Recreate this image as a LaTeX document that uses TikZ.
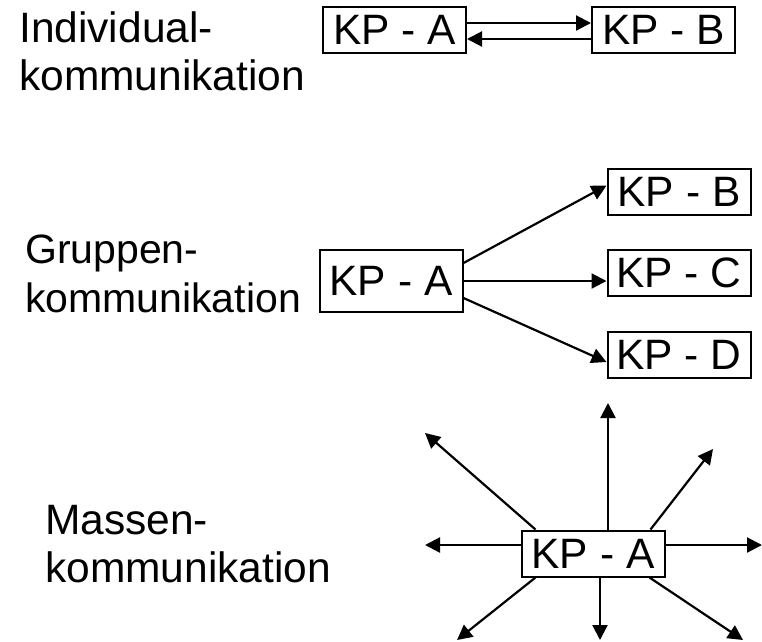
\documentclass[tikz,border=0pt]{standalone}
\usepackage{fontspec}
\setmainfont{Liberation Sans}
\usetikzlibrary{arrows.meta}
\begin{document}
\begin{tikzpicture}[x=1pt,y=-1pt,
  font=\fontsize{42.5}{48}\selectfont,
  kp/.style={draw,line width=2pt,inner sep=0pt,minimum width=143pt,minimum height=46pt},
  caption/.style={align=left,anchor=base west,inner sep=0pt},
  link/.style={line width=2.2pt,-{Triangle[length=15pt,width=15pt]}}]
\useasboundingbox (0,0) rectangle (762,641);

% Individualkommunikation (anchor sits on the last baseline)
\node[caption] (l1) at (19,90) {Individual-\\kommunikation};
\node[kp] (ia) at (394.5,30) {KP - A};
\node[kp] (ib) at (663.5,30) {KP - B};
\draw[link] ([yshift=7pt]ia.east) -- ([yshift=7pt]ib.west);
\draw[link] ([yshift=-9pt]ib.west) -- ([yshift=-9pt]ia.east);

% Gruppenkommunikation
\node[caption,font=\fontsize{41}{49}\selectfont] (l2) at (25,312) {Gruppen-\\kommunikation};
\node[kp,minimum height=62pt] (ga) at (391,281) {KP - A};
\node[kp] (gb) at (679,191.5) {KP - B};
\node[kp] (gc) at (679,272.5) {KP - C};
\node[kp] (gd) at (679,354.5) {KP - D};
\draw[link] ([yshift=18pt]ga.east) -- ([yshift=6pt]gb.west);
\draw[link] (ga.east) -- (ga.east -| gc.west);
\draw[link] ([yshift=-17pt]ga.east) -- ([yshift=-7.5pt]gd.west);

% Massenkommunikation
\node[caption] (l3) at (45,582) {Massen-\\kommunikation};
\node[kp] (ma) at (593,553.5) {KP - A};
\coordinate (pn)  at (608,403);
\coordinate (ps)  at (600,640);
\coordinate (pw)  at (425,545);
\coordinate (pe)  at (762,545);
\coordinate (pnw) at (425,433);
\coordinate (pne) at (713,449);
\coordinate (psw) at (457,640);
\coordinate (pse) at (743,640);
\draw[link] (ma.north -| pn) -- (pn);
\draw[link] (ma.south -| ps) -- (ps);
\draw[link] (ma.west |- pw) -- (pw);
\draw[link] (ma.east |- pe) -- (pe);
\draw[link] ([xshift=15pt]ma.north west) -- (pnw);
\draw[link] ([xshift=-15pt]ma.north east) -- (pne);
\draw[link] ([xshift=15pt]ma.south west) -- (psw);
\draw[link] ([xshift=-16pt]ma.south east) -- (pse);
\end{tikzpicture}
\end{document}
